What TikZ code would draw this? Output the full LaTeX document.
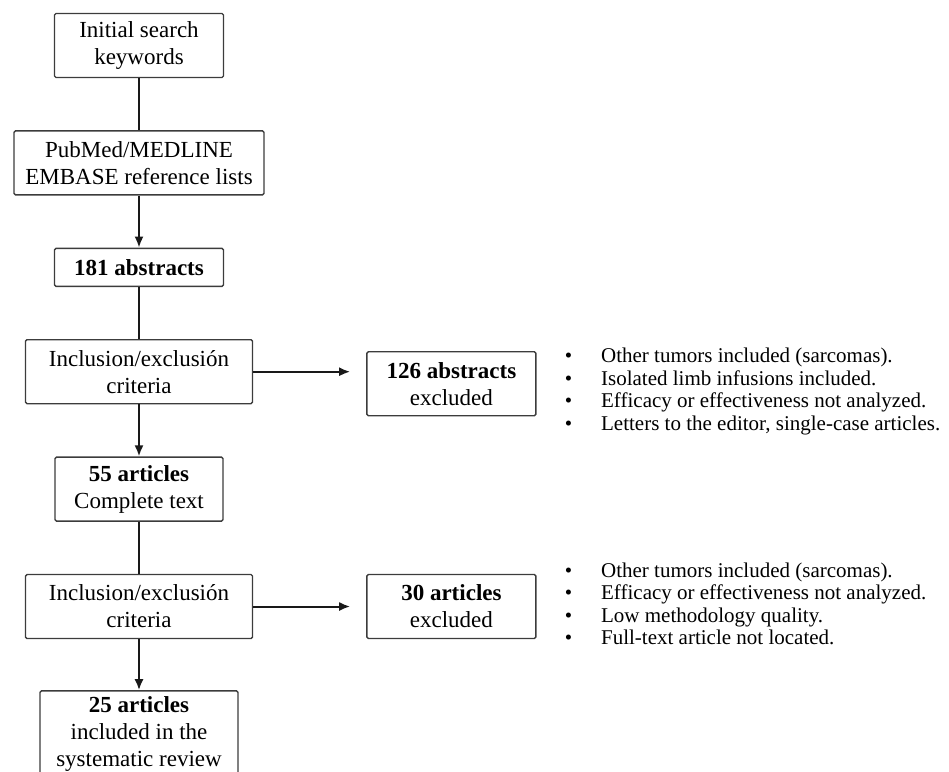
\documentclass[tikz,border=0pt]{standalone}
\usepackage{fontspec}
\setmainfont{Liberation Serif}
\usetikzlibrary{positioning,arrows.meta}

\begin{document}
\begin{tikzpicture}[node distance = 52pt, >={Latex[length=11pt,width=9pt]}]

  \definecolor{my_gray_dark}{RGB}{60,60,60}
  \definecolor{my_line}{RGB}{25,25,25}

  \tikzstyle{block} = [rectangle, draw=my_gray_dark, line width=1.4pt, align=center, rounded corners=1.5pt, minimum height=64pt, inner sep=0pt, font=\fontsize{23}{27}\selectfont]
  \tikzstyle{link} = [draw=my_line, line width=2pt]
  \tikzstyle{reasons} = [inner sep=0pt, align=left, font=\fontsize{21}{22.5}\selectfont]

  \useasboundingbox (0,0) rectangle (949pt,-771pt);
  \clip (0,0) rectangle (949pt,-771pt);

  \node [block, minimum width=169pt] at (139pt,-45.5pt) (keywords) {Initial search\\keywords};
  \node [block, minimum width=250pt, below=of keywords] (databases) {PubMed/MEDLINE\\EMBASE reference lists};
  \node [block, minimum width=169pt, minimum height=38pt, below=of databases] (abstracts) {\textbf{181 abstracts}};
  \node [block, minimum width=227pt, below=of abstracts] (criteria_one) {Inclusion/exclusión\\criteria};
  \node [block, minimum width=168pt, below=of criteria_one] (fulltext) {\textbf{55 articles}\\Complete text};
  \node [block, minimum width=227pt, below=of fulltext] (criteria_two) {Inclusion/exclusión\\criteria};
  \node [block, minimum width=198pt, minimum height=86pt, below=51pt of criteria_two] (included) {\textbf{25 articles}\\included in the\\systematic review};

  \node [block, minimum width=169pt, right=113pt of criteria_one, yshift=-12pt] (excluded_one) {\textbf{126 abstracts}\\excluded};
  \node [block, minimum width=169pt, right=113pt of criteria_two] (excluded_two) {\textbf{30 articles}\\excluded};

  \node [reasons, right=28pt of excluded_one, yshift=-8.5pt] (reasons_one) {\begin{tabular}{@{}l@{\hspace{29pt}}l@{}}
    \textbullet & Other tumors included (sarcomas).\\
    \textbullet & Isolated limb infusions included.\\
    \textbullet & Efficacy or effectiveness not analyzed.\\
    \textbullet & Letters to the editor, single-case articles.
  \end{tabular}};
  \node [reasons, right=28pt of excluded_two] (reasons_two) {\begin{tabular}{@{}l@{\hspace{29pt}}l@{}}
    \textbullet & Other tumors included (sarcomas).\\
    \textbullet & Efficacy or effectiveness not analyzed.\\
    \textbullet & Low methodology quality.\\
    \textbullet & Full-text article not located.
  \end{tabular}};

  \path [link] (keywords) -- (databases);
  \path [link, ->] (databases) -- (abstracts);
  \path [link] (abstracts) -- (criteria_one);
  \path [link, ->] (criteria_one) -- (fulltext);
  \path [link] (fulltext) -- (criteria_two);
  \path [link, ->] (criteria_two) -- (included);
  \path [link, ->, shorten >=16pt] (criteria_one.east) -- (criteria_one.east -| excluded_one.west);
  \path [link, ->, shorten >=16pt] (criteria_two.east) -- (criteria_two.east -| excluded_two.west);

\end{tikzpicture}
\end{document}
